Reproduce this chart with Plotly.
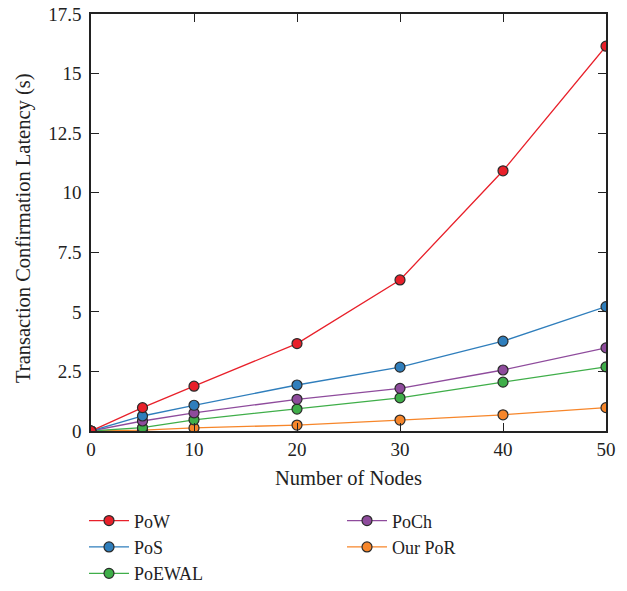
import plotly.graph_objects as go

nodes = [0, 5, 10, 20, 30, 40, 50]
pow_lat = [0, 0.98, 1.88, 3.67, 6.34, 10.92, 16.15]
pos_lat = [0, 0.63, 1.08, 1.93, 2.68, 3.77, 5.22]
poch_lat = [0, 0.42, 0.76, 1.33, 1.79, 2.56, 3.49]
poewal_lat = [0, 0.14, 0.47, 0.92, 1.39, 2.05, 2.69]
por_lat = [0, 0.04, 0.13, 0.25, 0.46, 0.68, 0.98]

y_tickvals = [0, 2.5, 5, 7.5, 10, 12.5, 15, 17.5]
y_ticktext = ["0", "2.5", "5", "7.5", "10", "12.5", "15", "17.5"]
x_tickvals = [0, 10, 20, 30, 40, 50]

series = [
    ("Our PoR", por_lat, "#f7862a", "legend2", 2),
    ("PoEWAL", poewal_lat, "#3fae49", "legend", 3),
    ("PoCh", poch_lat, "#8e4b9c", "legend2", 1),
    ("PoS", pos_lat, "#2f7ebc", "legend", 2),
    ("PoW", pow_lat, "#e8202a", "legend", 1),
]

FONT = "Liberation Serif"
FS = 19
TFS = 20.5
LFS = 18

fig = go.Figure()
for name, vals, color, leg, rank in series:
    fig.add_trace(go.Scatter(
        x=nodes, y=vals, name=name, mode="lines+markers",
        line=dict(color=color, width=1.3),
        marker=dict(size=10, color=color, line=dict(color="#2a2a2a", width=1.2)),
        legend=leg, legendrank=rank, cliponaxis=True,
    ))

axis_common = dict(
    showline=True, linecolor="#222", linewidth=1.5, mirror="allticks",
    ticks="inside", ticklen=8, tickwidth=1.3, tickcolor="#222",
    showgrid=False, zeroline=False,
    tickfont=dict(family=FONT, size=FS, color="#222"),
)

fig.update_layout(
    width=627, height=591,
    margin=dict(l=91, r=21, t=14, b=160, autoexpand=False),
    plot_bgcolor="white", paper_bgcolor="white",
    font=dict(family=FONT, size=FS, color="#222"),
    xaxis=dict(range=[0, 50], tickvals=x_tickvals,
               title=dict(text="Number of Nodes", font=dict(family=FONT, size=TFS), standoff=12),
               **axis_common),
    yaxis=dict(range=[0, 17.5], tickvals=y_tickvals, ticktext=y_ticktext,
               ticklabelstandoff=4, **axis_common),
    legend=dict(x=84 / 627, xref="container", y=0.150, yref="container", xanchor="left", yanchor="top",
                font=dict(family=FONT, size=LFS), tracegroupgap=0, itemwidth=40,
                bgcolor="rgba(0,0,0,0)"),
    legend2=dict(x=342 / 627, xref="container", y=0.150, yref="container", xanchor="left", yanchor="top",
                 font=dict(family=FONT, size=LFS), tracegroupgap=0, itemwidth=40,
                 bgcolor="rgba(0,0,0,0)"),
    showlegend=True,
    annotations=[dict(
        text="Transaction Confirmation Latency (s)", textangle=-90,
        xref="paper", yref="paper", x=-0.130, y=0.487, xanchor="center", yanchor="middle",
        showarrow=False, font=dict(family=FONT, size=TFS, color="#222"),
    )],
)

fig.write_html("out.html")
